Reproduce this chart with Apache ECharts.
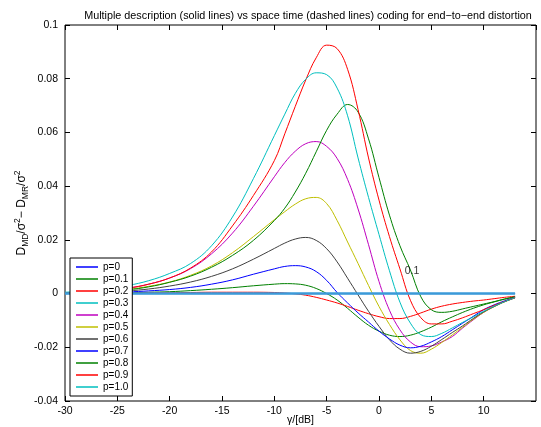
<!DOCTYPE html>
<html>
<head>
<meta charset="utf-8">
<script src="https://cdn.jsdelivr.net/npm/echarts@6/dist/echarts.min.js"></script>
<style>html,body{margin:0;padding:0;background:#fff}#c{width:541px;height:427px}</style>
</head>
<body>
<div id="c"></div>
<script>
// gamma in dB
const xs = [-30,-28,-26,-24,-22,-20,-18,-16,-14,-12,-10,-9,-8,-7,-6,-5,-4,-3,-2,-1,0,1,2,3,4,5,6,7,8,9,10,11,12,13];

const p00 = [0,0,0,0,0,0,0,0,0,0,0,0,0,0,0,0,0,0,0,0,0,0,0,0,0,0,0,0,0,0,0,0,0,0];
const p01 = [0,0.0001,0.0002,0.0003,0.0005,0.0007,0.0011,0.0016,0.0022,0.0029,0.0035,0.0037,0.0036,0.0031,0.0019,0.0,-0.0024,-0.0055,-0.0088,-0.0118,-0.014,-0.0155,-0.016,-0.0155,-0.0142,-0.0125,-0.0105,-0.0087,-0.007,-0.0055,-0.0042,-0.0031,-0.0021,-0.0012];
const p02 = [0,0.0001,0.0001,0.0002,0.0002,0.0003,0.0004,0.0005,0.0005,0.0005,0.0004,0.0002,-0.0001,-0.0006,-0.0014,-0.0024,-0.0035,-0.0048,-0.0062,-0.0075,-0.0086,-0.0093,-0.0093,-0.0085,-0.0072,-0.0058,-0.0047,-0.0039,-0.0033,-0.0028,-0.0024,-0.0019,-0.0014,-0.001];
const p03 = [0,0,0,0,0,0,0,0,0,0,0,0,0,0,0,0,0,0,0,0,0,0,0,0,0,0,0,0,0,0,0,0,0,0];
const p04 = [0.0003,0.0006,0.0011,0.002,0.0035,0.0058,0.0093,0.0148,0.0225,0.0325,0.0435,0.0488,0.053,0.0558,0.0566,0.0548,0.0503,0.0425,0.0315,0.0182,0.0045,-0.0062,-0.0135,-0.018,-0.0198,-0.0195,-0.018,-0.016,-0.0128,-0.0098,-0.007,-0.0048,-0.003,-0.0015];
const p05 = [0.0002,0.0005,0.0009,0.0016,0.0027,0.0043,0.0068,0.0103,0.0152,0.0212,0.0275,0.0305,0.0333,0.0353,0.0358,0.0335,0.0272,0.0192,0.0112,0.003,-0.0048,-0.0115,-0.0172,-0.0212,-0.0222,-0.0207,-0.0182,-0.0154,-0.0125,-0.0096,-0.007,-0.0049,-0.0031,-0.0016];
const p06 = [0.0001,0.0003,0.0006,0.001,0.0017,0.0028,0.0043,0.0064,0.0092,0.0128,0.0168,0.0188,0.0203,0.0209,0.0198,0.0167,0.0118,0.0057,-0.0005,-0.0066,-0.0122,-0.0172,-0.0207,-0.0222,-0.0215,-0.0196,-0.0171,-0.0145,-0.012,-0.0093,-0.0068,-0.0048,-0.003,-0.0016];
const p07 = [0.0001,0.0002,0.0004,0.0006,0.001,0.0015,0.0023,0.0035,0.0051,0.0072,0.0092,0.0101,0.0104,0.0099,0.0082,0.0049,0.0004,-0.0035,-0.0072,-0.0106,-0.014,-0.0169,-0.0192,-0.0202,-0.0196,-0.018,-0.016,-0.0135,-0.011,-0.0085,-0.006,-0.0042,-0.0027,-0.0014];
const p08 = [0.0002,0.0004,0.0008,0.0014,0.0025,0.0042,0.0065,0.0098,0.0142,0.0198,0.0272,0.0318,0.0378,0.0448,0.0528,0.0608,0.0668,0.0704,0.0676,0.0576,0.0432,0.0292,0.0178,0.0088,-0.0012,-0.006,-0.0070,-0.0066,-0.0057,-0.0048,-0.0039,-0.003,-0.002,-0.0012];
const p09 = [0.0003,0.0006,0.0011,0.002,0.0035,0.0058,0.0095,0.0155,0.0252,0.0365,0.0495,0.0595,0.0697,0.0795,0.0878,0.0925,0.0912,0.0835,0.0685,0.0505,0.0348,0.0212,0.0092,-0.0025,-0.009,-0.0113,-0.0113,-0.0103,-0.009,-0.0075,-0.006,-0.0044,-0.0029,-0.0015];
const p10 = [0.0005,0.001,0.0018,0.003,0.0048,0.0075,0.0112,0.0178,0.0285,0.0428,0.0588,0.0668,0.0745,0.0798,0.0822,0.0815,0.0765,0.0662,0.0505,0.0358,0.022,0.0085,-0.0032,-0.011,-0.0153,-0.016,-0.0148,-0.0128,-0.0107,-0.0087,-0.0066,-0.0047,-0.003,-0.0015];
// space-time reference (dashed lines, all coincide at zero)
const stZero = [0,0,0,0,0,0,0,0,0,0,0,0,0,0,0,0,0,0,0,0,0,0,0,0,0,0,0,0,0,0,0,0,0,0];

const names = ['p=0','p=0.1','p=0.2','p=0.3','p=0.4','p=0.5','p=0.6','p=0.7','p=0.8','p=0.9','p=1.0'];
const values = [p00,p01,p02,p03,p04,p05,p06,p07,p08,p09,p10];
const colors = ['#0000ff','#008000','#ff0000','#00bfbf','#bf00bf','#bfbf00','#404040','#0000ff','#008000','#ff0000','#00bfbf'];
const xTicks = {min:-30, max:15, interval:5};
const yTicks = {min:-0.04, max:0.1, interval:0.02};
const annotation = {x:3.15, y:0.0085, text:'0.1'};

const FONT = 'Liberation Sans, Arial, Helvetica, sans-serif';
const pair = arr => xs.map((x,i)=>[x,arr[i]]);

const series = names.map((n,i)=>({
  name:n, type:'line', xAxisIndex:0, yAxisIndex:0,
  data: pair(values[i]), symbol:'none', showSymbol:false, smooth:0.4,
  lineStyle:{color:colors[i], width:1}, itemStyle:{color:colors[i]},
  emphasis:{disabled:true}, z:2
}));
series.push({
  name:'space-time', type:'line', data: pair(stZero), symbol:'none',
  lineStyle:{color:'#3b9ad9', width:2.5}, emphasis:{disabled:true}, z:3
});
series.push({
  name:'annot', type:'scatter', data:[[annotation.x, annotation.y]], symbolSize:0,
  label:{show:true, formatter:annotation.text, position:'inside', color:'#000', fontSize:10.5, fontFamily:FONT},
  z:4, silent:true
});

const tick = {show:true, inside:true, length:5, lineStyle:{color:'#000', width:1}};
const noLine = {show:false, onZero:false};
const chart = echarts.init(document.getElementById('c'), null, {renderer:'canvas'});
chart.setOption({
  animation:false,
  backgroundColor:'#fff',
  title:{
    text:'Multiple description (solid lines) vs space time (dashed lines) coding for end\u2212to\u2212end distortion',
    left:303, top:6, textAlign:'center',
    textStyle:{fontSize:10.8, fontWeight:'normal', color:'#000', fontFamily:FONT}
  },
  grid:{left:65, right:5, top:25, bottom:26, containLabel:false, outerBoundsMode:'none',
        show:true, borderColor:'#000', borderWidth:1, backgroundColor:'transparent'},
  legend:{
    data:names, orient:'vertical', left:70, top:258, selectedMode:false,
    icon:'rect', itemWidth:22, itemHeight:1.5, itemGap:0,
    backgroundColor:'#fff', borderColor:'#000', borderWidth:1, padding:[3,4,3,6],
    textStyle:{fontSize:10, lineHeight:12, color:'#000', fontFamily:FONT}
  },
  xAxis:[
    {type:'value', position:'bottom', min:xTicks.min, max:xTicks.max, interval:xTicks.interval,
     axisLine:noLine, axisTick:tick, splitLine:{show:false},
     axisLabel:{color:'#000', fontSize:10.5, fontFamily:FONT, margin:5, showMaxLabel:false},
     name:'\u03b3/[dB]', nameLocation:'middle', nameGap:14, nameMoveOverlap:false,
     nameTextStyle:{color:'#000', fontSize:10.5, fontFamily:FONT, verticalAlign:'top'}},
    {type:'value', position:'top', min:xTicks.min, max:xTicks.max, interval:xTicks.interval,
     axisLine:noLine, axisTick:tick, splitLine:{show:false}, axisLabel:{show:false}}
  ],
  yAxis:[
    {type:'value', position:'left', min:yTicks.min, max:yTicks.max, interval:yTicks.interval,
     axisLine:noLine, axisTick:tick, splitLine:{show:false},
     axisLabel:{color:'#000', fontSize:10.5, fontFamily:FONT, margin:7,
       formatter:v=>String(+v.toFixed(2))},
     name:'D{sub|MD}/\u03c3{sup|2}\u2212 D{sub|MR}/\u03c3{sup|2}',
     nameLocation:'middle', nameRotate:90, nameGap:35, nameMoveOverlap:false,
     nameTextStyle:{color:'#000', fontSize:12, fontFamily:FONT, lineHeight:17,
       rich:{
         sub:{fontSize:8.5, verticalAlign:'bottom', lineHeight:17, fontFamily:FONT, color:'#000'},
         sup:{fontSize:8.5, verticalAlign:'top', lineHeight:17, fontFamily:FONT, color:'#000'}
       }}},
    {type:'value', position:'right', min:yTicks.min, max:yTicks.max, interval:yTicks.interval,
     axisLine:noLine, axisTick:tick, splitLine:{show:false}, axisLabel:{show:false}}
  ],
  series:series
});
</script>
</body>
</html>
